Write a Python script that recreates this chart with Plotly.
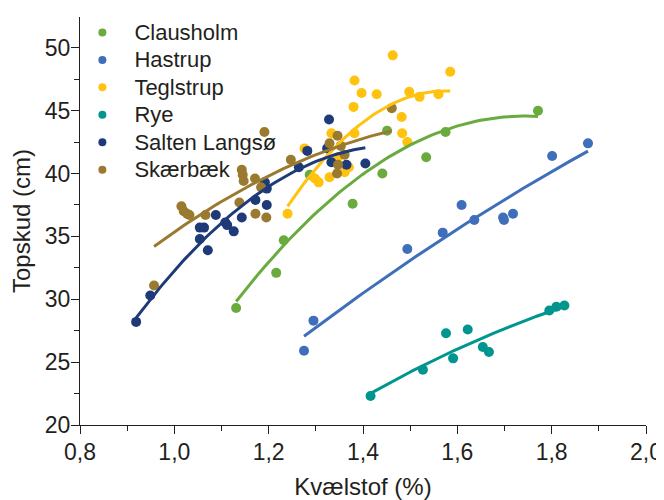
import numpy as np
import plotly.graph_objects as go

# ---- data ----
names = ["Clausholm", "Hastrup", "Teglstrup", "Rye", "Salten Langsø", "Skærbæk"]
colors = ["#6AAB3F", "#3F6EBA", "#FFC20E", "#00968F", "#1E3A78", "#9A7A2E"]

clausholm_x = [1.131, 1.216, 1.232, 1.287, 1.378, 1.441, 1.451, 1.534, 1.575, 1.771]
clausholm_y = [29.3, 32.1, 34.7, 39.9, 37.6, 40.0, 43.4, 41.3, 43.3, 45.0]

hastrup_x = [1.275, 1.295, 1.494, 1.569, 1.609, 1.636, 1.697, 1.699, 1.718, 1.801, 1.877]
hastrup_y = [25.9, 28.3, 34.0, 35.3, 37.5, 36.3, 36.5, 36.3, 36.8, 41.4, 42.4]

teglstrup_x = [1.240, 1.276, 1.298, 1.306, 1.329, 1.333, 1.347, 1.361, 1.370, 1.380, 1.382,
               1.382, 1.397, 1.429, 1.463, 1.482, 1.483, 1.494, 1.498, 1.520, 1.560, 1.585]
teglstrup_y = [36.8, 42.0, 39.6, 39.3, 39.7, 43.2, 41.3, 40.1, 40.5, 45.3, 47.4,
               43.2, 46.4, 46.3, 49.4, 44.5, 43.2, 42.5, 46.5, 46.1, 46.3, 48.1]

rye_x = [1.416, 1.527, 1.576, 1.591, 1.622, 1.654, 1.667, 1.795, 1.810, 1.827]
rye_y = [22.3, 24.4, 27.3, 25.3, 27.6, 26.2, 25.8, 29.1, 29.4, 29.5]

salten_x = [0.919, 0.949, 1.054, 1.054, 1.063, 1.071, 1.088, 1.108, 1.112, 1.126, 1.143,
            1.172, 1.192, 1.196, 1.196, 1.264, 1.282, 1.324, 1.328, 1.333, 1.365, 1.405]
salten_y = [28.2, 30.3, 34.8, 35.7, 35.7, 33.9, 36.7, 36.1, 35.9, 35.4, 36.5,
            37.9, 39.3, 38.8, 37.5, 40.5, 41.8, 42.0, 44.3, 40.9, 40.7, 40.8]

skaerbaek_x = [0.957, 1.015, 1.020, 1.027, 1.032, 1.066, 1.138, 1.143, 1.145, 1.147, 1.171,
               1.172, 1.184, 1.191, 1.195, 1.247, 1.329, 1.345, 1.346, 1.347, 1.353, 1.361, 1.461]
skaerbaek_y = [31.1, 37.4, 37.0, 36.8, 36.7, 36.7, 37.7, 40.3, 39.9, 39.4, 39.6,
               36.8, 38.9, 43.3, 36.5, 41.1, 42.4, 40.0, 43.0, 40.7, 42.2, 41.5, 45.2]

xs = [clausholm_x, hastrup_x, teglstrup_x, rye_x, salten_x, skaerbaek_x]
ys = [clausholm_y, hastrup_y, teglstrup_y, rye_y, salten_y, skaerbaek_y]

x_ticks = [0.8, 1.0, 1.2, 1.4, 1.6, 1.8, 2.0]
y_ticks = [20, 25, 30, 35, 40, 45, 50]

TXT = "#231F20"
FONT = "Liberation Sans, Arial, sans-serif"

fig = go.Figure()

# markers
for n, c, x, y in zip(names, colors, xs, ys):
    fig.add_trace(go.Scatter(x=x, y=y, mode="markers", name=n, showlegend=False,
                             marker=dict(color=c, size=10, line=dict(width=0))))

# 2nd-order polynomial trendlines over each series' x-range
for n, c, x, y in zip(names, colors, xs, ys):
    coef = np.polyfit(x, y, 2)
    xx = np.linspace(min(x), max(x), 80)
    fig.add_trace(go.Scatter(x=xx, y=np.polyval(coef, xx), mode="lines", showlegend=False,
                             line=dict(color=c, width=3), hoverinfo="skip"))

# legend entries (text at 22px, rows spaced like the reference)
for n, c in zip(names, colors):
    fig.add_trace(go.Scatter(x=[None], y=[None], mode="markers",
                             name='<span style="font-size:22px">' + n + '</span>',
                             marker=dict(color=c, size=8)))

axis_common = dict(showline=True, linecolor=TXT, linewidth=1.3, ticks="outside",
                   ticklen=8, tickwidth=1.3, tickcolor=TXT, showgrid=False, zeroline=False,
                   tickfont=dict(size=23, color=TXT, family=FONT), mirror=False,
                   automargin=False)

# page body has an 8px default margin: figure is 656x492 so it ends at 664x500
fig.update_layout(
    template="none",
    width=656, height=492,
    margin=dict(l=72, r=18, t=6, b=75),
    paper_bgcolor="white", plot_bgcolor="white",
    separators=", ",
    font=dict(family=FONT, color=TXT),
    xaxis=dict(range=[0.8, 2.0], tickvals=x_ticks, tickformat=".1f",
               minor=dict(dtick=0.1, ticks="outside", ticklen=5, tickcolor=TXT, tickwidth=1.3),
               ticklabelstandoff=-2,
               title=dict(text="Kvælstof (%)", font=dict(size=24, color=TXT, family=FONT), standoff=18),
               **axis_common),
    yaxis=dict(range=[20, 52.45], tickvals=y_ticks,
               minor=dict(dtick=2.5, ticks="outside", ticklen=5, tickcolor=TXT, tickwidth=1.3),
               ticklabelstandoff=-4,
               title=dict(text="Topskud (cm)", font=dict(size=24, color=TXT, family=FONT), standoff=10),
               **axis_common),
    legend=dict(x=-0.017, y=1.008, xanchor="left", yanchor="top", bgcolor="rgba(0,0,0,0)",
                font=dict(size=18.8, color=TXT, family=FONT), itemwidth=54,
                tracegroupgap=0),
)

fig.write_html("out.html")
